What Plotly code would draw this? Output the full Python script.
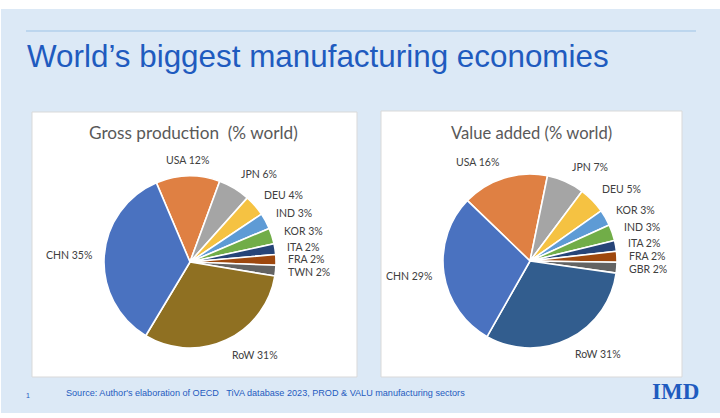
import math
import plotly.graph_objects as go

# ---- data ----
gross_labels = ["USA", "JPN", "DEU", "IND", "KOR", "ITA", "FRA", "TWN", "RoW", "CHN"]
gross_values = [12, 6, 4, 3, 3, 2, 2, 2, 31, 35]

va_labels = ["USA", "JPN", "DEU", "KOR", "IND", "ITA", "FRA", "GBR", "RoW", "CHN"]
va_values = [16, 7, 5, 3, 3, 2, 2, 2, 31, 29]

gross_colors = ["#DF8043", "#A5A5A5", "#F5C242", "#5E9BD5", "#71AD48",
                "#264478", "#9E480E", "#636363", "#8F7022", "#4A72C0"]
va_colors = ["#DF8043", "#A5A5A5", "#F5C242", "#5E9BD5", "#71AD48",
             "#264478", "#9E480E", "#636363", "#325D8E", "#4A72C0"]

W, H = 720, 418
LABEL_FONT = dict(family="Lato, Open Sans, sans-serif", size=10.5, color="#404040")
BLUE = "#1F5BBF"


def px_dom(cx, cy, r):
    return dict(x=[(cx - r) / W, (cx + r) / W], y=[1 - (cy + r) / H, 1 - (cy - r) / H])


fig = go.Figure()
annotations = []


def add_pie(labels, values, colors, cx, cy, r, rotation):
    fig.add_trace(go.Pie(
        labels=labels, values=values, sort=False, direction="clockwise",
        rotation=rotation, domain=px_dom(cx, cy, r),
        marker=dict(colors=colors, line=dict(color="white", width=1.6)),
        textinfo="none", showlegend=False, hoverinfo="label+value",
    ))
    # outside-end labels, placed at each slice's mid angle
    total = float(sum(values))
    cum = 0.0
    R = r + 10
    for lab, v in zip(labels, values):
        mid = math.radians(rotation + (cum + v / 2) / total * 360)
        cum += v
        s, c = math.sin(mid), math.cos(mid)
        px_, py_ = cx + R * s, cy - R * c
        if s > 0.15:
            xa = "left"
        elif s < -0.15:
            xa = "right"
        else:
            xa = "center"
        annotations.append(dict(
            text=f"{lab} {v}%", x=px_ / W, y=1 - py_ / H, xref="paper", yref="paper",
            xanchor=xa, yanchor="middle", yshift=6.5 * c, showarrow=False,
            font=LABEL_FONT,
        ))


add_pie(gross_labels, gross_values, gross_colors, 190, 262, 86, -23)
add_pie(va_labels, va_values, va_colors, 530, 261, 87, -46)


def rect(x0, y0, x1, y1, fill, line=None, lw=0):
    return dict(type="rect", xref="paper", yref="paper",
                x0=x0 / W, x1=x1 / W, y0=1 - y1 / H, y1=1 - y0 / H,
                fillcolor=fill, line=dict(color=line or fill, width=lw), layer="below")


shapes = [
    rect(1, 9, 720, 413, "#DCE9F6"),
    rect(32, 112, 357, 377, "white", "#D9D9D9", 1),
    rect(381, 111, 682, 377, "white", "#D9D9D9", 1),
    dict(type="line", xref="paper", yref="paper", x0=26 / W, x1=696 / W,
         y0=1 - 31 / H, y1=1 - 31 / H, line=dict(color="#9DC3E6", width=1)),
]


def ann(text, x, y, size, color, family="Liberation Sans, Arial, sans-serif",
        xanchor="left", bold=False):
    return dict(text=f"<b>{text}</b>" if bold else text, x=x / W, y=1 - y / H,
                xref="paper", yref="paper", xanchor=xanchor, yanchor="middle",
                showarrow=False, font=dict(family=family, size=size, color=color))


annotations += [
    ann("World’s biggest manufacturing economies", 25, 57, 31.4, BLUE),
    ann("Gross production  (% world)", 193, 133, 17.2, "#595959",
        family="Lato, Open Sans, sans-serif", xanchor="center"),
    ann("Value added (% world)", 531, 133, 16.6, "#595959",
        family="Lato, Open Sans, sans-serif", xanchor="center"),
    ann("Source: Author's elaboration of OECD   TiVA database 2023, PROD &amp; VALU manufacturing sectors",
        64, 393, 9.1, BLUE),
    ann("1", 24, 395, 7, BLUE),
    ann("IMD", 675, 391, 23, BLUE, family="Liberation Serif, Times New Roman, serif",
        xanchor="center", bold=True),
]

fig.update_layout(
    width=W, height=H, margin=dict(l=0, r=0, t=0, b=0),
    paper_bgcolor="white", plot_bgcolor="white",
    shapes=shapes, annotations=annotations,
)
fig.write_html("out.html", config={"displayModeBar": False},
               post_script="document.body.style.margin='0';")
